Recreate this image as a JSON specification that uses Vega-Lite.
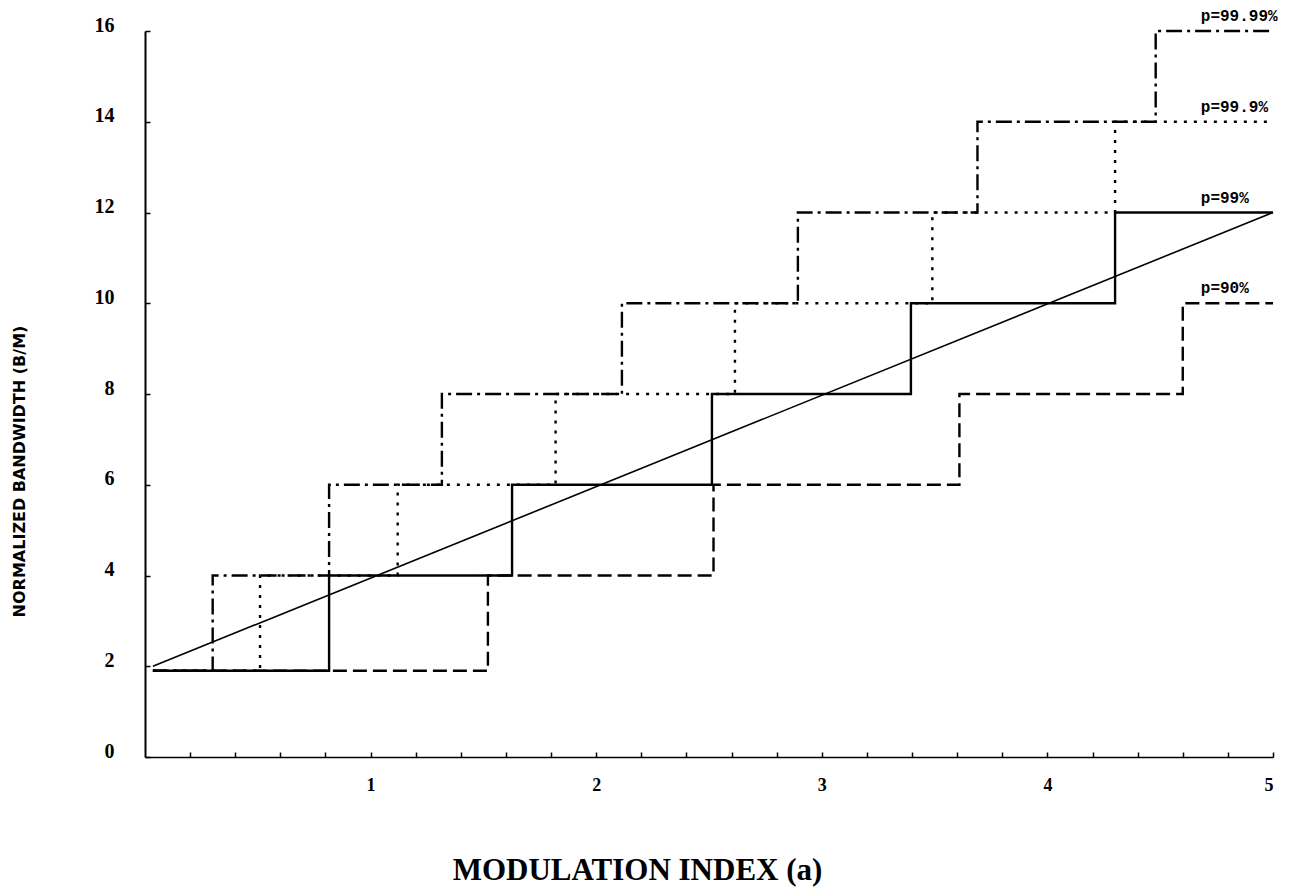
{
  "$schema": "https://vega.github.io/schema/vega-lite/v6.json",
  "width": 1128,
  "height": 726,
  "autosize": {"type": "none"},
  "padding": {"left": 145, "top": 31, "right": 29, "bottom": 133},
  "background": "white",
  "config": {"view": {"stroke": null}},
  "datasets": {
    "steps": [
      {"series": "p=90%", "a": 0.035, "bw": 1.9},
      {"series": "p=90%", "a": 1.52, "bw": 4},
      {"series": "p=90%", "a": 2.52, "bw": 6},
      {"series": "p=90%", "a": 3.61, "bw": 8},
      {"series": "p=90%", "a": 4.6, "bw": 10},
      {"series": "p=90%", "a": 5.0, "bw": 10},
      {"series": "p=99%", "a": 0.035, "bw": 1.9},
      {"series": "p=99%", "a": 0.816, "bw": 4},
      {"series": "p=99%", "a": 1.627, "bw": 6},
      {"series": "p=99%", "a": 2.513, "bw": 8},
      {"series": "p=99%", "a": 3.395, "bw": 10},
      {"series": "p=99%", "a": 4.3, "bw": 12},
      {"series": "p=99%", "a": 5.0, "bw": 12},
      {"series": "p=99.9%", "a": 0.035, "bw": 1.9},
      {"series": "p=99.9%", "a": 0.51, "bw": 4},
      {"series": "p=99.9%", "a": 1.12, "bw": 6},
      {"series": "p=99.9%", "a": 1.82, "bw": 8},
      {"series": "p=99.9%", "a": 2.615, "bw": 10},
      {"series": "p=99.9%", "a": 3.49, "bw": 12},
      {"series": "p=99.9%", "a": 4.3, "bw": 14},
      {"series": "p=99.9%", "a": 5.0, "bw": 14},
      {"series": "p=99.99%", "a": 0.035, "bw": 1.9},
      {"series": "p=99.99%", "a": 0.3, "bw": 4},
      {"series": "p=99.99%", "a": 0.816, "bw": 6},
      {"series": "p=99.99%", "a": 1.316, "bw": 8},
      {"series": "p=99.99%", "a": 2.114, "bw": 10},
      {"series": "p=99.99%", "a": 2.894, "bw": 12},
      {"series": "p=99.99%", "a": 3.69, "bw": 14},
      {"series": "p=99.99%", "a": 4.48, "bw": 16},
      {"series": "p=99.99%", "a": 5.0, "bw": 16}
    ],
    "diag": [
      {"a": 0.035, "bw": 2.0},
      {"a": 5.0, "bw": 12.0}
    ],
    "labels": [
      {"text": "p=99.99%", "a": 4.68, "bw": 16.33},
      {"text": "p=99.9%", "a": 4.68, "bw": 14.33},
      {"text": "p=99%", "a": 4.68, "bw": 12.32},
      {"text": "p=90%", "a": 4.68, "bw": 10.34}
    ]
  },
  "layer": [
    {
      "data": {"name": "steps"},
      "mark": {"type": "line", "interpolate": "step-after", "color": "black", "strokeWidth": 2.4, "clip": false},
      "encoding": {
        "x": {
          "field": "a", "type": "quantitative",
          "scale": {"domain": [0, 5], "nice": false, "zero": false},
          "axis": {
            "values": [0.2, 0.4, 0.6, 0.8, 1, 1.2, 1.4, 1.6, 1.8, 2, 2.2, 2.4, 2.6, 2.8, 3, 3.2, 3.4, 3.6, 3.8, 4, 4.2, 4.4, 4.6, 4.8, 5],
            "labelExpr": "datum.value == round(datum.value) ? datum.value : ''",
            "grid": false,
            "domainColor": "black", "domainWidth": 1.5,
            "tickColor": "black", "tickSize": -5, "tickWidth": 1.5,
            "labelFont": "Liberation Serif", "labelFontSize": 18, "labelFontWeight": "bold", "labelColor": "black",
            "labelBaseline": "top", "labelPadding": 24,
            "title": "MODULATION INDEX (a)",
            "titleFont": "Liberation Serif", "titleFontSize": 31, "titleFontWeight": "bold", "titleColor": "black",
            "titleX": 492, "titleY": 122, "titleAlign": "center", "titleBaseline": "alphabetic"
          }
        },
        "y": {
          "field": "bw", "type": "quantitative",
          "scale": {"domain": [0, 16], "nice": false, "zero": false},
          "axis": {
            "values": [0, 2, 4, 6, 8, 10, 12, 14, 16],
            "grid": false,
            "domainColor": "black", "domainWidth": 2,
            "tickColor": "black", "tickSize": -5, "tickWidth": 1.5,
            "labelFont": "Liberation Serif", "labelFontSize": 20, "labelFontWeight": "bold", "labelColor": "black",
            "labelPadding": 36, "labelOffset": -6,
            "title": "NORMALIZED BANDWIDTH (B/M)",
            "titleFont": "DejaVu Sans", "titleFontSize": 16, "titleFontWeight": "bold", "titleColor": "black",
            "titleX": -126, "titleY": 440, "titleAlign": "center", "titleBaseline": "middle", "titleAngle": 270
          }
        },
        "detail": {"field": "series"},
        "strokeDash": {
          "field": "series", "type": "nominal",
          "scale": {"domain": ["p=90%", "p=99%", "p=99.9%", "p=99.99%"], "range": [[14, 6], [1, 0], [3, 7], [16, 5, 3, 5]]},
          "legend": null
        }
      }
    },
    {
      "data": {"name": "diag"},
      "mark": {"type": "line", "color": "black", "strokeWidth": 1.6},
      "encoding": {
        "x": {"field": "a", "type": "quantitative"},
        "y": {"field": "bw", "type": "quantitative"}
      }
    },
    {
      "data": {"name": "labels"},
      "mark": {"type": "text", "align": "left", "baseline": "middle", "font": "Liberation Mono", "fontSize": 16, "fontWeight": "bold", "color": "black"},
      "encoding": {
        "x": {"field": "a", "type": "quantitative"},
        "y": {"field": "bw", "type": "quantitative"},
        "text": {"field": "text"}
      }
    }
  ]
}
